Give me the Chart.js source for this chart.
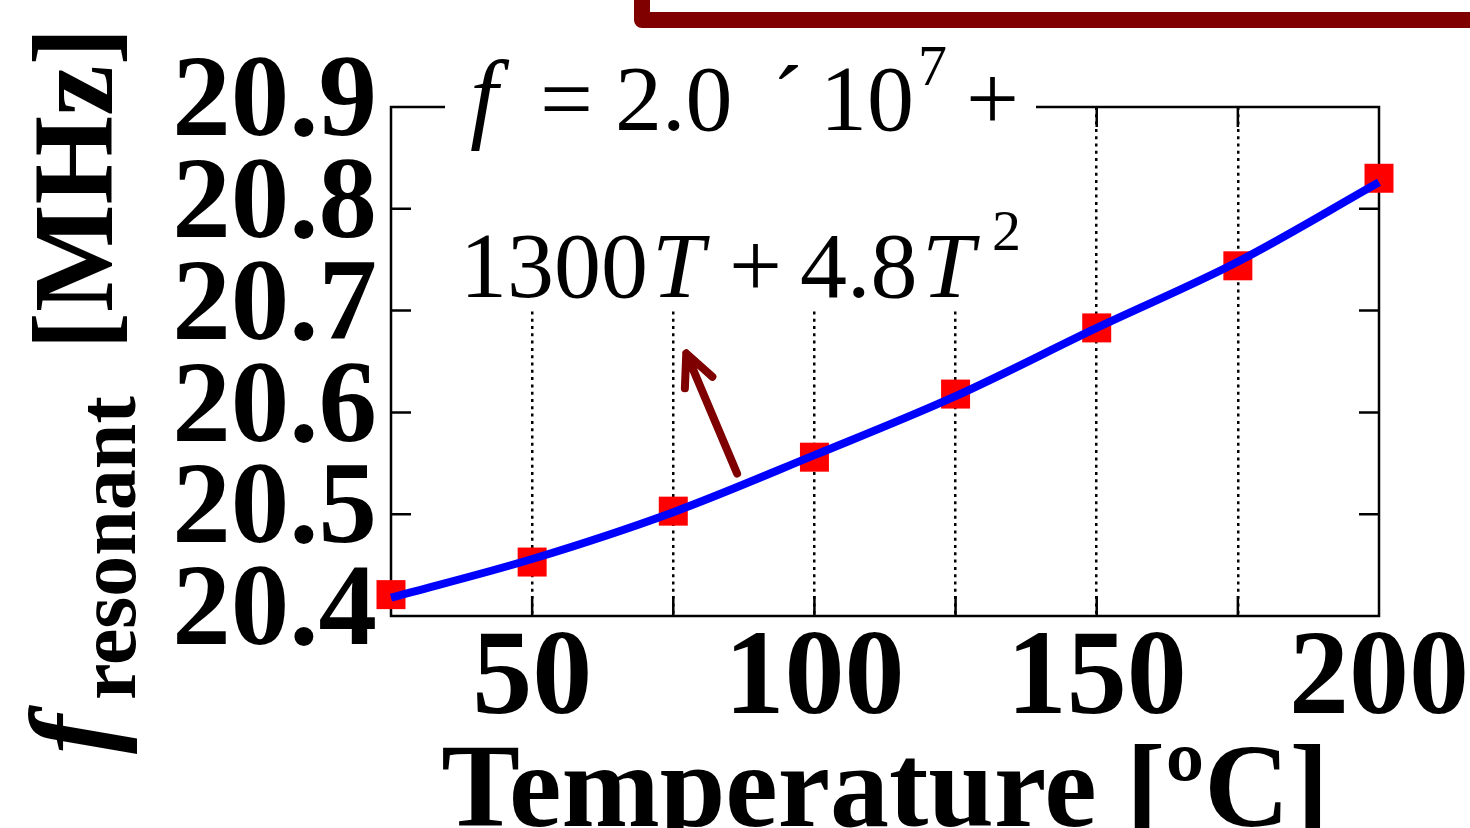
<!DOCTYPE html>
<html>
<head>
<meta charset="utf-8">
<script src="https://cdn.jsdelivr.net/npm/chart.js@4.4.1/dist/chart.umd.min.js"></script>
<style>
  html, body { margin: 0; padding: 0; background: #fff; }
  canvas { display: block; }
</style>
</head>
<body>
<canvas id="myChart" width="1470" height="828"></canvas>
<script>
// temperature [°C]
var temps = [25, 50, 75, 100, 125, 150, 175, 200];
// measured resonant frequency [MHz]
var measured = [20.421, 20.453, 20.503, 20.556, 20.618, 20.683, 20.744, 20.830];
// fitted curve [MHz]
var fitted = [20.418, 20.456, 20.502, 20.558, 20.616, 20.683, 20.748, 20.826];
// tick labels
var xTickLabels = ['50', '100', '150', '200'];
var yTickLabels = ['20.4', '20.5', '20.6', '20.7', '20.8', '20.9'];
// arrow of the annotation (data units)
var arrowFrom = { x: 86.3, y: 20.540 };
var arrowTo = { x: 77.3, y: 20.658 };

var SERIF = "'Liberation Serif', 'Times New Roman', serif";

// frame, inner ticks, formula, arrow and axis titles
var decorations = {
  id: 'decorations',
  beforeDatasetsDraw: function(chart) {
    var ctx = chart.ctx, a = chart.chartArea;
    var xs = chart.scales.x, ys = chart.scales.y;
    ctx.save();
    ctx.strokeStyle = '#000';
    ctx.lineWidth = 2.5;
    ctx.strokeRect(a.left, a.top, a.right - a.left, a.bottom - a.top);
    ctx.beginPath();
    xs.ticks.forEach(function(t) {
      if (t.value <= xs.min + 1e-6 || t.value >= xs.max - 1e-6) return;
      var px = xs.getPixelForValue(t.value);
      ctx.moveTo(px, a.bottom); ctx.lineTo(px, a.bottom - 20);
      ctx.moveTo(px, a.top); ctx.lineTo(px, a.top + 20);
    });
    ys.ticks.forEach(function(t) {
      if (t.value <= ys.min + 1e-6 || t.value >= ys.max - 1e-6) return;
      var py = ys.getPixelForValue(t.value);
      ctx.moveTo(a.left, py); ctx.lineTo(a.left + 20, py);
      ctx.moveTo(a.right, py); ctx.lineTo(a.right - 20, py);
    });
    ctx.stroke();
    ctx.restore();
  },
  afterDraw: function(chart) {
    var ctx = chart.ctx, a = chart.chartArea;
    var xs = chart.scales.x, ys = chart.scales.y;
    ctx.save();

    // white box behind the formula
    ctx.fillStyle = '#fff';
    ctx.fillRect(445, 30, 591, 281);

    // formula
    ctx.fillStyle = '#000';
    ctx.textBaseline = 'alphabetic';
    ctx.textAlign = 'left';
    var runs = [
      ['f', 470, 130, 'italic ', 100],
      ['=', 540, 130, '', 94],
      ['2.0', 615, 130, '', 94],
      ['\u00b4', 772, 130, '', 94],
      ['10', 820, 130, '', 94],
      ['7', 918, 85, '', 58],
      ['+', 966, 130, '', 94],
      ['1300', 460, 297, '', 94],
      ['T', 652, 297, 'italic ', 94],
      ['+', 729, 297, '', 94],
      ['4.8', 800, 297, '', 94],
      ['T', 922, 297, 'italic ', 94],
      ['2', 992, 250, '', 58]
    ];
    runs.forEach(function(r) {
      ctx.font = r[3] + r[4] + 'px ' + SERIF;
      ctx.fillText(r[0], r[1], r[2]);
    });

    // arrow
    var x0 = xs.getPixelForValue(arrowFrom.x), y0 = ys.getPixelForValue(arrowFrom.y);
    var x1 = xs.getPixelForValue(arrowTo.x), y1 = ys.getPixelForValue(arrowTo.y);
    var ang = Math.atan2(y0 - y1, x0 - x1);
    ctx.strokeStyle = '#7f0000';
    ctx.lineWidth = 8;
    ctx.lineCap = 'round';
    ctx.lineJoin = 'round';
    ctx.beginPath();
    ctx.moveTo(x0, y0); ctx.lineTo(x1, y1);
    ctx.moveTo(x1 + 35 * Math.cos(ang - 0.44), y1 + 35 * Math.sin(ang - 0.44));
    ctx.lineTo(x1, y1);
    ctx.lineTo(x1 + 35 * Math.cos(ang + 0.44), y1 + 35 * Math.sin(ang + 0.44));
    ctx.stroke();

    // dark red frame edge at the top
    ctx.strokeStyle = '#800000';
    ctx.lineWidth = 16;
    ctx.beginPath();
    ctx.moveTo(642, -30); ctx.lineTo(642, 20); ctx.lineTo(1500, 20);
    ctx.stroke();

    // x title
    ctx.fillStyle = '#000';
    ctx.font = 'bold 118px ' + SERIF;
    ctx.textAlign = 'center';
    ctx.fillText('Temperature [\u00baC]', (a.left + a.right) / 2, 826);

    // y title
    ctx.translate(112, 760);
    ctx.rotate(-Math.PI / 2);
    ctx.textAlign = 'left';
    ctx.font = 'italic bold 118px ' + SERIF;
    ctx.fillText('f', 6, 0);
    ctx.font = 'bold 82px ' + SERIF;
    ctx.fillText('resonant', 60, 23);
    ctx.font = 'bold 114px ' + SERIF;
    ctx.fillText('[MHz]', 410, 0);
    ctx.restore();
  }
};

var ctx = document.getElementById('myChart').getContext('2d');
var myChart = new Chart(ctx, {
  type: 'scatter',
  data: {
    datasets: [
      {
        label: 'fit',
        data: temps.map(function(t, i) { return { x: t, y: fitted[i] }; }),
        showLine: true,
        borderColor: '#0000ff',
        borderWidth: 8,
        pointRadius: 0,
        cubicInterpolationMode: 'monotone',
        clip: false
      },
      {
        label: 'measured',
        data: temps.map(function(t, i) { return { x: t, y: measured[i] }; }),
        showLine: false,
        pointStyle: 'rect',
        pointRadius: 20.5,
        backgroundColor: '#ff0000',
        borderWidth: 0,
        clip: false
      }
    ]
  },
  options: {
    responsive: false,
    animation: false,
    events: [],
    layout: { padding: { top: 107, right: 91, left: 0, bottom: 0 } },
    plugins: { legend: { display: false }, tooltip: { enabled: false } },
    scales: {
      x: {
        type: 'linear',
        min: 25,
        max: 200,
        afterFit: function(s) {
          s.height = 212;
          s.paddingLeft = 0;
          s.paddingRight = 0;
        },
        border: { display: false, dash: [3, 4.3] },
        grid: {
          drawTicks: false,
          lineWidth: 2.5,
          color: function(c) {
            var v = c.tick ? c.tick.value : 0;
            return (v > 25 && v < 200) ? '#000' : 'rgba(0,0,0,0)';
          }
        },
        ticks: {
          stepSize: 25,
          padding: 6,
          color: '#000',
          maxRotation: 0,
          autoSkip: false,
          font: { family: SERIF, size: 120, weight: 'bold', lineHeight: 1 },
          callback: function(v) { return xTickLabels.indexOf(String(v)) >= 0 ? String(v) : ''; }
        }
      },
      y: {
        min: 20.4,
        max: 20.9,
        afterFit: function(s) {
          s.width = 391;
          s.paddingTop = 0;
          s.paddingBottom = 0;
        },
        border: { display: false },
        grid: { display: false, drawTicks: false },
        ticks: {
          stepSize: 0.1,
          padding: 14,
          labelOffset: -2,
          autoSkip: false,
          color: '#000',
          font: { family: SERIF, size: 117, weight: 'bold', lineHeight: 1 },
          callback: function(v) {
            var s = Number(v).toFixed(1);
            return yTickLabels.indexOf(s) >= 0 ? s : '';
          }
        }
      }
    }
  },
  plugins: [decorations]
});
</script>
</body>
</html>
